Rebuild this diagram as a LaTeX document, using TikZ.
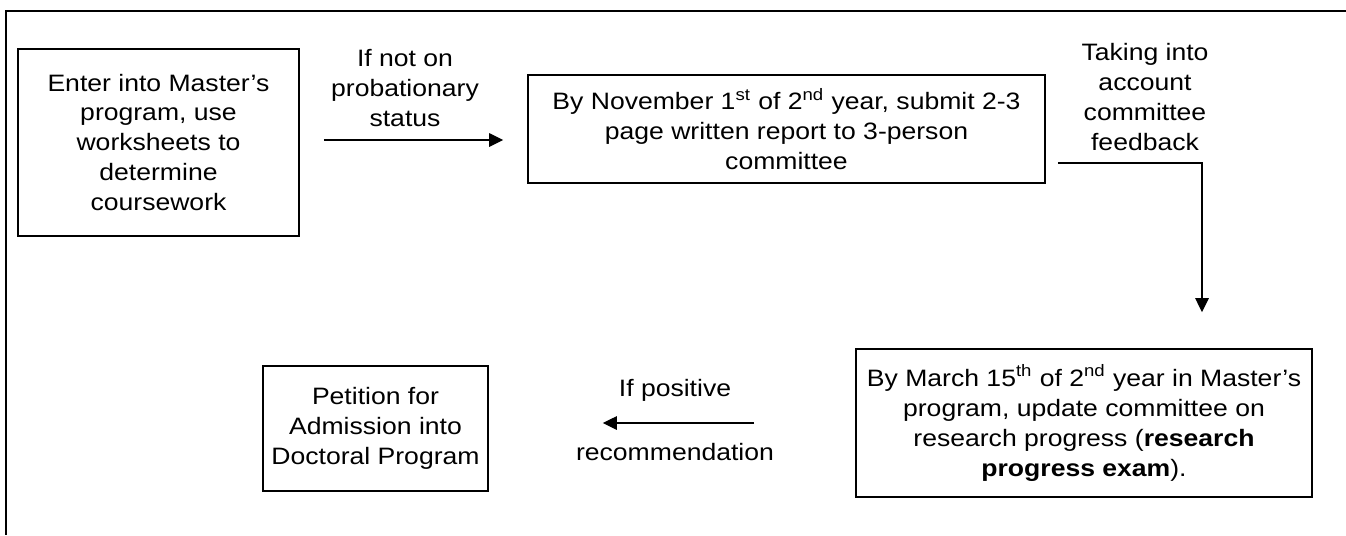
\documentclass[tikz,border=0pt]{standalone}
\usepackage{fontspec}
\setmainfont{Liberation Sans}[FakeStretch=1.12]
\usetikzlibrary{positioning,arrows.meta}

\begin{document}
\begin{tikzpicture}[x=0.02cm,y=-0.02cm,
      clear/.style={draw=none,fill=none,align=center,inner sep=0pt},
      stepbox/.style={draw, line width=1pt, rectangle, align=center, inner sep=2pt},
      every node/.style={font=\fontsize{13.5}{17.07}\selectfont},
      flow/.style={draw, line width=0.7pt, -{Triangle[length=0.28cm,width=0.27cm]}}
   ]
      \useasboundingbox (0,0) rectangle (1346,535);
      % outer frame (cut at right and bottom)
      \draw[line width=1.6pt] (1346,11) -- (6,11) -- (6,535);

      \node[stepbox, minimum width=5.62cm, minimum height=3.74cm] (enter) at (158.5,142.5)
         {Enter into Master’s\\program, use\\worksheets to\\determine\\coursework};
      \node[stepbox, minimum width=10.34cm, minimum height=2.16cm] (report) at (786.5,129)
         {By November 1\textsuperscript{st} of 2\textsuperscript{nd} year, submit 2-3\\page written report to 3-person\\committee};
      \node[stepbox, minimum width=9.12cm, minimum height=2.96cm] (exam) at (1084,423)
         {By March 15\textsuperscript{th} of 2\textsuperscript{nd} year in Master’s\\program, update committee on\\research progress (\textbf{research}\\\textbf{progress exam}).};
      \node[stepbox, minimum width=4.5cm, minimum height=2.5cm] (petition) at (375.5,428.5)
         {Petition for\\Admission into\\Doctoral Program};

      \coordinate (a1) at (0,140);
      \coordinate (turn) at (1202,163);
      \coordinate (a3) at (0,423);

      \draw[flow, shorten <=0.48cm, shorten >=0.48cm] (enter.east |- a1) -- (report.west |- a1);
      \draw[flow, shorten <=0.24cm, shorten >=0.72cm] (report.east |- turn) -- (turn) -- (exam.north -| turn);
      \draw[flow, shorten <=2.02cm, shorten >=2.28cm] (exam.west |- a3) -- (petition.east |- a3);

      \node[clear] (notprob) at (405,88) {If not on\\probationary\\status};
      \node[clear] (feedback) at (1145,97) {Taking into\\account\\committee\\feedback};
      \node[clear] (positive) at (675,390) {If positive};
      \node[clear] (recomm) at (675,452) {recommendation};
   \end{tikzpicture}
\end{document}
